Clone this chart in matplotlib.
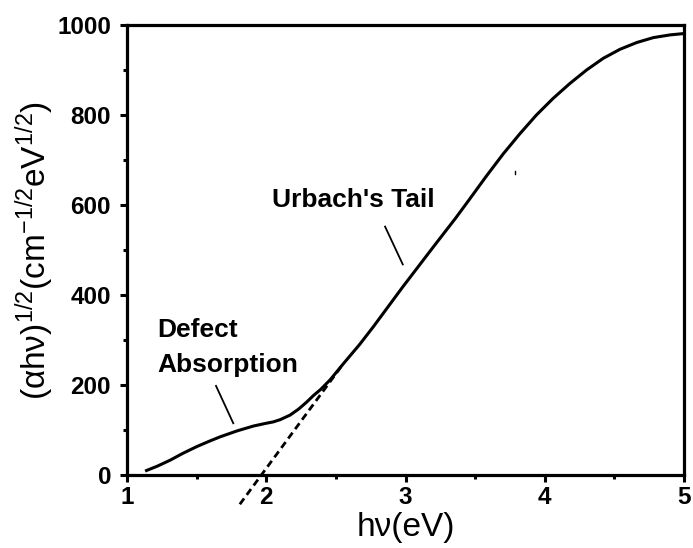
import matplotlib
matplotlib.use("Agg")
import matplotlib.pyplot as plt
from matplotlib.ticker import MultipleLocator

plt.rcParams['font.family'] = ['Liberation Sans', 'DejaVu Sans']
plt.rcParams['mathtext.fontset'] = 'custom'
plt.rcParams['mathtext.rm'] = 'Liberation Sans'
plt.rcParams['mathtext.it'] = 'Liberation Sans'
plt.rcParams['mathtext.bf'] = 'Liberation Sans:bold'

# curve
energy = [1.14, 1.22, 1.31, 1.40, 1.50, 1.59, 1.67, 1.79, 1.91, 2.00, 2.05,
          2.10, 2.17, 2.23, 2.29, 2.34, 2.39, 2.46, 2.55, 2.67, 2.77, 2.98,
          3.20, 3.36, 3.46, 3.58, 3.70, 3.82, 3.94, 4.06, 4.18, 4.30, 4.42,
          4.54, 4.66, 4.78, 4.90, 5.00]
absorb = [10, 20, 33, 48, 63, 75, 85, 98, 109, 115, 118,
          123, 133, 146, 162, 177, 190, 212, 246, 290, 330, 418,
          507, 571, 613, 664, 713, 758, 800, 837, 870, 900, 926,
          946, 961, 972, 978, 981]

# linear extrapolation (dashed)
fit_x = [1.81, 2.55]
fit_y = [-65, 246]

x_ticks = [1, 2, 3, 4, 5]
y_ticks = [0, 200, 400, 600, 800, 1000]

fig = plt.figure(figsize=(6.93, 5.48), dpi=100)
ax = fig.add_axes([0.1833, 0.1332, 0.8038, 0.8212])

ax.plot(energy, absorb, color='k', lw=2.2, solid_joinstyle='round')
ax.plot(fit_x, fit_y, color='k', lw=2.0, dashes=(2.6, 1.6), clip_on=False)

# annotation pointers
ax.plot([1.639, 1.763], [198, 115], color='k', lw=1.3)
ax.plot([2.853, 2.980], [552, 468], color='k', lw=1.3)
ax.plot([3.786, 3.786], [668, 675], color='k', lw=1.0)

ax.text(1.215, 307, 'Defect', fontsize=19, fontweight='bold', va='baseline')
ax.text(1.215, 230, 'Absorption', fontsize=19, fontweight='bold', va='baseline')
ax.text(2.041, 596, "Urbach's Tail", fontsize=19, fontweight='bold', va='baseline')

ax.set_xlim(1, 5)
ax.set_ylim(0, 1000)
ax.set_xticks(x_ticks)
ax.set_yticks(y_ticks)
ax.xaxis.set_minor_locator(MultipleLocator(0.5))
ax.yaxis.set_minor_locator(MultipleLocator(100))

for s in ax.spines.values():
    s.set_linewidth(2.3)
ax.tick_params(which='both', direction='out', top=False, right=False, width=2.2)
ax.tick_params(which='major', length=5)
ax.tick_params(which='minor', length=3)
ax.tick_params(axis='x', pad=3)
ax.tick_params(axis='y', pad=6.5)
for lab in ax.get_xticklabels() + ax.get_yticklabels():
    lab.set_fontweight('bold')
    lab.set_fontsize(17.5)

ax.set_xlabel('hν(eV)', fontsize=24, labelpad=2)
ax.set_ylabel('(αhν)$^{1/2}$(cm$^{-1/2}$eV$^{1/2}$)', fontsize=24, labelpad=1)

fig.savefig('out.png', dpi=100)
